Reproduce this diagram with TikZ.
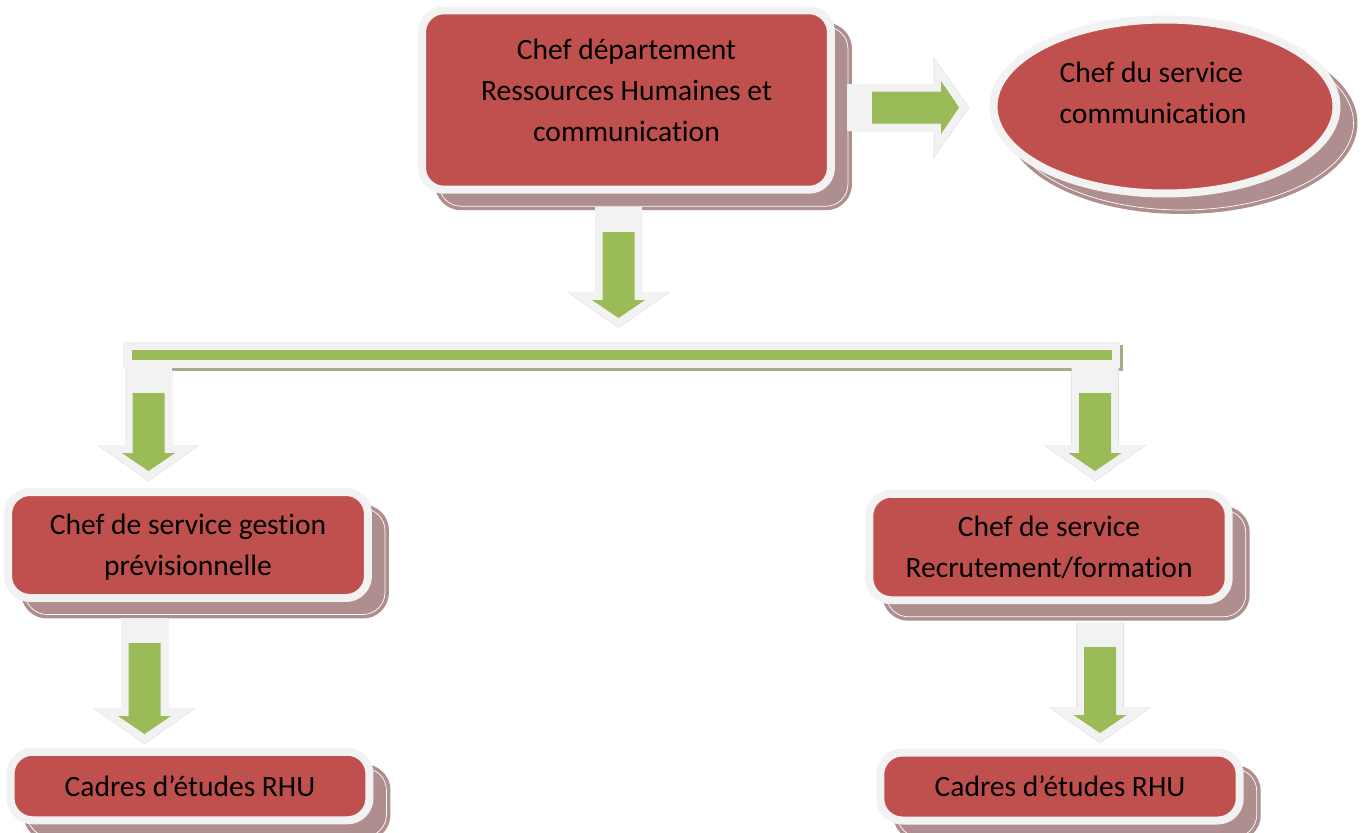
\documentclass[tikz,border=0pt]{standalone}
\usepackage{fontspec}
\setmainfont[Ligatures=NoCommon]{Carlito}
\usepackage{tikz}
\usetikzlibrary{shapes.geometric, shadows}

\definecolor{boxred}{RGB}{192,80,77}
\definecolor{boxrim}{RGB}{242,242,242}
\definecolor{boxshade}{RGB}{174,142,142}
\definecolor{arrowgreen}{RGB}{155,187,89}
\definecolor{arrowshade}{RGB}{163,174,136}

\tikzset{
    boxtext/.style={font=\fontsize{16.8}{23.3}\selectfont, inner sep=0pt},
    orgbox/.style={
        boxtext, rounded corners=4.4mm, fill=boxred, draw=boxrim, line width=1.6mm,
        align=center,
        general shadow={shadow xshift=3.4mm, shadow yshift=-3.3mm,
            fill=boxshade, draw=boxshade, line width=1.6mm},
        general shadow={shadow xshift=3.4mm, shadow yshift=-3.3mm,
            draw=white, line width=.4pt}
    },
    orgoval/.style={orgbox, ellipse, sharp corners}
}

% #1 tail, #2 rotation, #3 body length (px)
\newcommand{\BlockArrow}[3]{%
    \foreach \layer/\dx/\dy in {arrowshade/3/4, boxrim/0/0} {%
        \fill[\layer, shift={(\dx,\dy)}, shift={#1}, rotate=#2]
            (0,-23.5) -- (#3,-23.5) -- (#3,-51) -- (#3+36,0)
            -- (#3,51) -- (#3,23.5) -- (0,23.5) -- cycle;
    }%
    \fill[arrowgreen, shift={#1}, rotate=#2]
        (25,-16) -- (#3+8,-16) -- (#3+8,-26.5) -- (#3+26,0)
        -- (#3+8,26.5) -- (#3+8,16) -- (25,16) -- cycle;
}

\begin{document}
\begin{tikzpicture}[x=0.02cm, y=-0.02cm]
    \useasboundingbox (0,0) rectangle (1365,832);

    % boxes
    \node[orgbox, minimum width=8.18cm, minimum height=3.59cm, text depth=4mm]
        (dept) at (626.5,100) {Chef département\\Ressources Humaines et\\communication};
    \node[orgoval, minimum width=6.86cm, minimum height=3.48cm]
        (comm) at (1165,106.5) {};
    \node[boxtext, align=flush left] (commT) at (1153,92.5)
        {Chef du service\\communication};
    \node[orgbox, minimum width=7.2cm, minimum height=2.12cm, text depth=0pt]
        (gestion) at (188,545) {Chef de service gestion\\prévisionnelle};
    \node[orgbox, minimum width=7.19cm, minimum height=2.13cm]
        (recrut) at (1049,547) {Chef de service\\Recrutement/formation};
    \node[orgbox, minimum width=7.18cm, minimum height=1.37cm]
        (cadresG) at (190,786) {Cadres d’études RHU};
    \node[orgbox, minimum width=7.19cm, minimum height=1.36cm]
        (cadresR) at (1060,786.5) {Cadres d’études RHU};

    % arrow tails
    \coordinate (A1) at (847,107.5);    % dept -> comm
    \coordinate (A2) at (618.5,207);    % dept -> bar
    \coordinate (A3) at (148.5,368);    % bar -> gestion
    \coordinate (A4) at (1095,368);     % bar -> recrut
    \coordinate (A5) at (144.5,618);    % gestion -> cadres
    \coordinate (A6) at (1100,622);     % recrut -> cadres

    % bar
    \fill[arrowshade] (126,345) rectangle (1123,371);
    \fill[boxrim] (123,342) rectangle (1120,368);
    \fill[arrowgreen] (132,350) rectangle (1112,360);

    \BlockArrow{(A1)}{0}{86}
    \BlockArrow{(A2)}{-90}{85}
    \BlockArrow{(A3)}{-90}{77}
    \BlockArrow{(A4)}{-90}{77}
    \BlockArrow{(A5)}{-90}{90}
    \BlockArrow{(A6)}{-90}{85}
\end{tikzpicture}
\end{document}
